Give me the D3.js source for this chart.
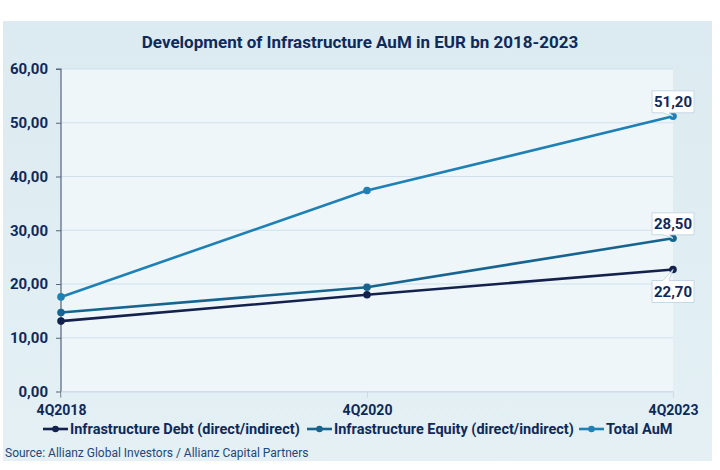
<!DOCTYPE html>
<html><head><meta charset="utf-8">
<script src="https://cdn.jsdelivr.net/npm/d3@7"></script>
<style>
html,body{margin:0;padding:0;background:#fff;}
svg{display:block;font-family:Roboto,"Noto Sans",sans-serif;}
</style></head>
<body>
<svg id="c" width="720" height="470"></svg>
<script>
const categories = ["4Q2018", "4Q2020", "4Q2023"];
const seriesNames = ["Infrastructure Debt (direct/indirect)", "Infrastructure Equity (direct/indirect)", "Total AuM"];
const debtValues = [13.1, 18.0, 22.7];
const equityValues = [14.7, 19.4, 28.5];
const totalValues = [17.6, 37.4, 51.2];
const yTicks = [0, 10, 20, 30, 40, 50, 60];
const titleText = "Development of Infrastructure AuM in EUR bn 2018-2023";
const sourceText = "Source: Allianz Global Investors / Allianz Capital Partners";

const colors = ["#14214d", "#17648f", "#1f80b6"];
const navy = "#0f2a5a";
const series = [
  {name: seriesNames[0], values: debtValues, color: colors[0], label: "below"},
  {name: seriesNames[1], values: equityValues, color: colors[1], label: "above"},
  {name: seriesNames[2], values: totalValues, color: colors[2], label: "above"}
];

const svg = d3.select("#c");
const defs = svg.append("defs");
const g1 = defs.append("linearGradient").attr("id","bg").attr("x1",0).attr("y1",0).attr("x2",0).attr("y2",1);
g1.append("stop").attr("offset","0").attr("stop-color","#dcebf1");
g1.append("stop").attr("offset","1").attr("stop-color","#e4f0f4");

// outer panel
svg.append("rect").attr("x",3).attr("y",21).attr("width",709).attr("height",440).attr("fill","url(#bg)");

const pL = 61, pR = 673, pT = 69, pB = 391.5;
const x = d3.scalePoint().domain(categories).range([pL, pR]);
const y = d3.scaleLinear().domain([0, 60]).range([pB, pT]);

// plot area
svg.append("rect").attr("x",pL).attr("y",pT).attr("width",pR-pL).attr("height",pB-pT).attr("fill","#eef6f9");

// title
svg.append("text").attr("x",360).attr("y",48).attr("text-anchor","middle")
  .attr("font-size",17).attr("font-weight",700).attr("fill",navy).text(titleText);

// gridlines
svg.append("g").selectAll("line").data(yTicks).join("line")
  .attr("x1",pL).attr("x2",pR).attr("y1",d=>y(d)).attr("y2",d=>y(d))
  .attr("stroke","#cfe0ec").attr("stroke-width",1);

// y axis
const yAxis = svg.append("g").attr("transform",`translate(${pL},0)`)
  .call(d3.axisLeft(y).tickValues(yTicks).tickSize(5).tickPadding(8)
    .tickFormat(d => d3.format(".2f")(d).replace(".", ",")));
yAxis.select(".domain").attr("stroke","#56657a").attr("stroke-width",1.2).attr("d",`M-5,${pT}H0V${pB+6}`);
yAxis.selectAll(".tick line").attr("stroke","#56657a");
yAxis.selectAll(".tick text").attr("font-size",15).attr("font-weight",700).attr("fill",navy)
  .attr("font-family","Roboto, sans-serif");

// x axis
const xAxis = svg.append("g").attr("transform",`translate(0,${pB})`)
  .call(d3.axisBottom(x).tickSize(6).tickPadding(8));
xAxis.select(".domain").attr("stroke","#c9dbe7");
xAxis.selectAll(".tick line").attr("stroke","#c9dbe7");
xAxis.selectAll(".tick text").attr("font-size",14).attr("font-weight",700).attr("fill",navy)
  .attr("font-family","Roboto, sans-serif");

// lines
const line = d3.line().x((d,i)=>x(categories[i])).y(d=>y(d));
series.forEach(s => {
  svg.append("path").attr("d", line(s.values)).attr("fill","none")
    .attr("stroke", s.color).attr("stroke-width",2.6).attr("stroke-linejoin","round");
  svg.append("g").selectAll("circle").data(s.values).join("circle")
    .attr("cx",(d,i)=>x(categories[i])).attr("cy",d=>y(d)).attr("r",3.8).attr("fill",s.color);
});

// data labels (last point)
const fmt = v => d3.format(".2f")(v).replace(".", ",");
series.forEach(s => {
  const v = s.values[s.values.length-1];
  const px = x(categories[categories.length-1]), py = y(v);
  const w = 42, h = 22;
  const bx = px - w/2;
  let path, ty;
  if (s.label === "above") {
    const by = py - 3.5 - h;
    const bb = by + h;
    path = `M${bx},${by}H${bx+w}V${bb}H${px-4}L${px},${py}L${px-10},${bb}H${bx}Z`;
    ty = by + h/2;
  } else {
    const by = py + 11;
    path = `M${bx},${by}H${px-10}L${px},${py}L${px-4},${by}H${bx+w}V${by+h}H${bx}Z`;
    ty = by + h/2;
  }
  svg.append("path").attr("d",path).attr("fill","#ffffff").attr("stroke","#c6d8e4").attr("stroke-width",1);
  svg.append("text").attr("x",px).attr("y",ty).attr("dy","0.36em").attr("text-anchor","middle")
    .attr("font-size",15).attr("font-weight",700).attr("fill",navy).text(fmt(v));
});

// legend
const legendY = 429;
const legendX = [43, 307, 579];
series.forEach((s,i) => {
  const lg = svg.append("g").attr("transform",`translate(${legendX[i]},${legendY})`);
  lg.append("line").attr("x1",0).attr("x2",25).attr("y1",0).attr("y2",0).attr("stroke",s.color).attr("stroke-width",2.6);
  lg.append("circle").attr("cx",12.5).attr("cy",0).attr("r",3.3).attr("fill",s.color);
  lg.append("text").attr("x",27).attr("y",0).attr("dy","0.36em").attr("font-size",14.5)
    .attr("font-weight",700).attr("fill",navy).text(s.name);
});

// source
svg.append("text").attr("x",5).attr("y",457).attr("font-size",12).attr("fill","#24467a").text(sourceText);
</script>
</body></html>
